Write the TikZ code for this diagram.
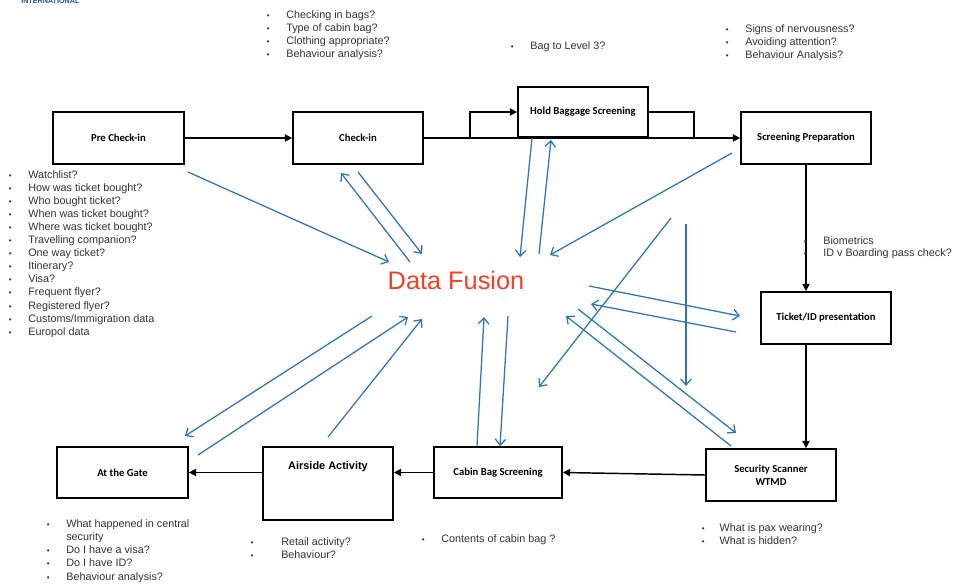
\documentclass[tikz,border=0pt]{standalone}
\usepackage{fontspec}
\setmainfont{Liberation Sans}
\newfontfamily\labelfont{Carlito}
\usetikzlibrary{arrows.meta,calc}
\definecolor{infoblue}{RGB}{46,117,182}
\definecolor{fusionred}{RGB}{240,65,35}
\definecolor{logoblue}{RGB}{30,80,160}
\definecolor{notegray}{RGB}{50,50,50}
% bullet followed by a fixed gap before the item text
\newcommand\bitem[1][14.6pt]{\makebox[#1][l]{\fontsize{6}{6}\selectfont\textbullet}}
\begin{document}
\begin{tikzpicture}[x=0.75pt,y=-0.75pt,
  stage/.style={draw=black, line width=1.3pt, inner sep=0pt, align=center,
    font=\labelfont\bfseries\fontsize{8}{9.6}\selectfont},
  size/.style 2 args={minimum width=#1*0.75pt, minimum height=#2*0.75pt},
  flow/.style={line width=1.1pt, -{Triangle[length=5.5pt,width=5.5pt]}},
  link/.style={line width=1.1pt},
  info/.style={draw=infoblue, line width=0.95pt, -{Straight Barb[length=4.5pt,width=8pt]}},
  % lists are placed by their top edge; the strut fixes the first line's height
  notes/.style={anchor=north west, inner sep=0pt, align=left, text=notegray,
    font=\fontsize{8.1}{9.8}\selectfont, execute at begin node={\rule{0pt}{6.5pt}}},
]
\useasboundingbox (0,0) rectangle (954,586);

% logo remnant at the top edge
\node[anchor=base west, inner sep=0pt, text=logoblue,
  font=\bfseries\fontsize{5.4}{6}\selectfont] (logo) at (21,3) {INTERNATIONAL};

% process stages
\node[stage,size={131}{52}] (pre)  at (118.5,138) {Pre Check-in};
\node[stage,size={130}{52}] (chk)  at (358,138)   {Check-in};
\node[stage,size={130}{50}] (hbs)  at (583,112)   {Hold Baggage Screening};
\node[stage,size={130}{52}] (prep) at (806,138)   {Screening Preparation};
\node[stage,size={130}{52}] (tid)  at (826,318)   {Ticket/ID presentation};
\node[stage,size={130}{52}] (scan) at (771,475)   {Security Scanner\\WTMD};
\node[stage,size={128}{51}] (cab)  at (498,472.5) {Cabin Bag Screening};
\node[stage,size={130}{73}] (air)  at (328,483.5) {};
\node[inner sep=0pt, font=\bfseries\fontsize{8.2}{10}\selectfont] (airtxt) at (328,467) {Airside Activity};
\node[stage,size={131}{51}] (gate) at (122.5,472.5) {At the Gate};

% central hub
\node[inner sep=0pt, text=fusionred, font=\fontsize{19}{22}\selectfont] (df) at (456,280.5) {Data Fusion};

% passenger flow
\draw[flow] (pre.east) -- (chk.west);
\draw[flow] (chk.east) -- (prep.west);
\coordinate (fork) at (470,138);
\coordinate (rejoin) at (694,138);
\draw[flow] (fork) |- (hbs.west);
\draw[link] (hbs.east) -| (rejoin);
\draw[flow] (prep.south) -- (prep.south |- tid.north);
\draw[flow] (prep.south |- tid.south) -- (prep.south |- scan.north);
\draw[flow] (scan.west) -- (cab.east);
\draw[flow] (cab.west) -- (cab.west -| air.east);
\draw[flow] (cab.west -| air.west) -- (gate.east);

% ends of the information links
\coordinate (preA) at (188,172);   \coordinate (dfA) at (389,262);
\coordinate (dfB) at (410,262);    \coordinate (chkA) at (341,173);
\coordinate (chkB) at (358,172);   \coordinate (dfC) at (422,254);
\coordinate (hbsA) at (532,138);   \coordinate (dfD) at (520,257);
\coordinate (dfE) at (539,254);    \coordinate (hbsB) at (551,140);
\coordinate (prepA) at (732,153);  \coordinate (dfF) at (550,255);
\coordinate (crossA) at (671,218); \coordinate (crossB) at (539,387);
\coordinate (dropA) at (686,224);  \coordinate (dropB) at (686,386);
\coordinate (dfG) at (589,286);    \coordinate (tidA) at (740,316);
\coordinate (tidB) at (736,332);   \coordinate (dfH) at (591,304);
\coordinate (dfI) at (578,309);    \coordinate (scanA) at (736,433);
\coordinate (scanB) at (731,446);  \coordinate (dfJ) at (566,316);
\coordinate (cabA) at (477,446);   \coordinate (dfK) at (484,317);
\coordinate (dfL) at (508,316);    \coordinate (cabB) at (500,446);
\coordinate (dfM) at (372,316);    \coordinate (gateA) at (185,436);
\coordinate (gateB) at (198,455);  \coordinate (dfN) at (408,317);
\coordinate (airA) at (328,437);   \coordinate (dfO) at (422,319);

% information links to and from the hub
\draw[info] (preA) -- (dfA);
\draw[info] (dfB) -- (chkA);
\draw[info] (chkB) -- (dfC);
\draw[info] (hbsA) -- (dfD);
\draw[info] (dfE) -- (hbsB);
\draw[info] (prepA) -- (dfF);
\draw[info] (crossA) -- (crossB);
\draw[info] (dropA) -- (dropB);
\draw[info] (dfG) -- (tidA);
\draw[info] (tidB) -- (dfH);
\draw[info] (dfI) -- (scanA);
\draw[info] (scanB) -- (dfJ);
\draw[info] (cabA) -- (dfK);
\draw[info] (dfL) -- (cabB);
\draw[info] (dfM) -- (gateA);
\draw[info] (gateB) -- (dfN);
\draw[info] (airA) -- (dfO);

% questions asked at each stage
\node[notes] (nchk) at (266.6,10.3) {\bitem Checking in bags?\\\bitem Type of cabin bag?\\\bitem Clothing appropriate?\\\bitem Behaviour analysis?};
\node[notes] (nhbs) at (510.6,40.3) {\bitem Bag to Level 3?};
\node[notes] (nprep) at (725.6,24.3) {\bitem Signs of nervousness?\\\bitem Avoiding attention?\\\bitem Behaviour Analysis?};
\node[notes] (npre) at (8.6,170.3) {\bitem Watchlist?\\\bitem How was ticket bought?\\\bitem Who bought ticket?\\\bitem When was ticket bought?\\\bitem Where was ticket bought?\\\bitem Travelling companion?\\\bitem One way ticket?\\\bitem Itinerary?\\\bitem Visa?\\\bitem Frequent flyer?\\\bitem Registered flyer?\\\bitem Customs/Immigration data\\\bitem Europol data};
\node[notes, font=\fontsize{8.1}{9}\selectfont] (ntid) at (803.6,236.3) {\bitem Biometrics\\\bitem ID v Boarding pass check?};
\node[notes, font=\fontsize{8.1}{9.9}\selectfont] (ngate) at (46.6,519.3) {\bitem What happened in central\\\makebox[14.6pt]{}security\\\bitem Do I have a visa?\\\bitem Do I have ID?\\\bitem Behaviour analysis?};
\node[notes] (nair) at (250.6,537.3) {\bitem[22.8pt]Retail activity?\\\bitem[22.8pt]Behaviour?};
\node[notes] (ncab) at (421.6,533.3) {\bitem Contents of cabin bag ?};
\node[notes] (nscan) at (701.6,523.3) {\bitem[13.4pt]What is pax wearing?\\\bitem[13.4pt]What is hidden?};
\end{tikzpicture}
\end{document}
